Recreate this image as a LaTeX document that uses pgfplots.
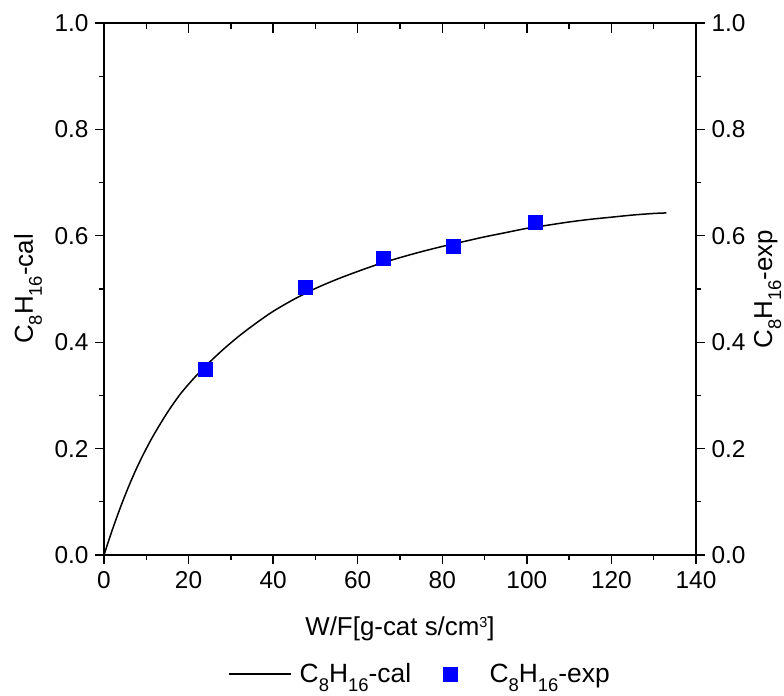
\documentclass[border=0pt]{standalone}
\usepackage{pgfplots}
\pgfplotsset{compat=1.18}
\usepackage{fontspec}
\setmainfont{Liberation Sans}
\newcommand\sub[1]{\raisebox{-9bp}{\fontsize{18.5}{18.5}\selectfont #1}}
\newcommand\sups[1]{\raisebox{8bp}{\fontsize{14.5}{14.5}\selectfont #1}}
\definecolor{sqblue}{RGB}{0,0,255}

\pgfplotstableread{
x y
0 0
2 0.048
4 0.092
6 0.132
8 0.168
10 0.200
12 0.229
15 0.268
18 0.302
21 0.330
24 0.355
28 0.385
32 0.412
36 0.436
40 0.458
45 0.481
50 0.501
55 0.518
60 0.533
65 0.547
70 0.559
75 0.570
80 0.580
85 0.589
90 0.598
95 0.606
100 0.614
105 0.620
110 0.626
115 0.631
120 0.635
125 0.639
130 0.642
133 0.643
}\calc

\pgfplotstableread{
x y
24 0.350
47.5 0.503
66 0.557
82.5 0.581
102 0.626
}\expdata

\begin{document}
\begin{tikzpicture}
\pgfplotsset{
  common/.style={
    width=592bp, height=532bp, scale only axis,
    xmin=0, xmax=140, ymin=0, ymax=1,
    xtick={0,20,...,140}, ytick={0,0.2,0.4,0.6,0.8,1.0},
    minor x tick num=1, minor y tick num=1,
    axis line style={line width=1.3bp},
    every tick/.style={black, line width=1.3bp},
    /pgf/number format/assume math mode=true,
    tick label style={font=\fontsize{24.5}{28}\selectfont},
    label style={font=\fontsize{26}{30}\selectfont},
    yticklabel style={/pgf/number format/fixed, /pgf/number format/fixed zerofill, /pgf/number format/precision=1},
  }
}
\begin{axis}[common, name=main,
  axis x line*=bottom, axis y line*=left,
  tick align=outside,
  major tick length=9bp, minor tick length=5bp,
  xticklabel style={yshift=-4bp},
  yticklabel style={xshift=-3bp},
  xlabel={W/F[g-cat s/cm\sups{3}]},
  xlabel style={at={(axis description cs:0.5,0)}, anchor=base, yshift=-80bp},
  ylabel={C\sub{8}H\sub{16}-cal},
  ylabel style={at={([xshift=-71bp]axis description cs:0,0.5)}, anchor=base, rotate=0},
  legend style={at={([yshift=-119bp]axis description cs:0.2095,0)}, anchor=west, draw=none,
    font=\fontsize{26.5}{30}\selectfont, inner sep=0bp,
    nodes={inner sep=2bp},
    /tikz/every odd column/.append style={column sep=6bp},
    /tikz/every even column/.append style={column sep=6bp}},
  legend columns=2,
  legend cell align=left,
]
\addplot[black, line width=1.5bp, smooth,
  legend image code/.code={\draw[black, line width=1.5bp] (0bp,0bp) -- (62bp,0bp);}]
  table[x=x,y=y]{\calc};
\addlegendentry{C\sub{8}H\sub{16}-cal}
\addplot[only marks, mark=square*, mark size=7bp, color=sqblue,
  legend image code/.code={\draw[only marks, mark=square*, mark size=7bp, color=sqblue] plot coordinates {(31bp,0bp)};\path (0bp,0bp) (62bp,0bp);}]
  table[x=x,y=y]{\expdata};
\addlegendentry{C\sub{8}H\sub{16}-exp}
\end{axis}
\begin{axis}[common,
  axis x line*=top, axis y line=none,
  tick align=inside,
  major tick length=10bp, minor tick length=6bp,
  xticklabels={},
]
\end{axis}
\begin{axis}[common,
  axis y line*=right, axis x line=none,
  tick align=outside,
  major tick length=9bp, minor tick length=5bp,
  yticklabel style={xshift=3bp},
  ylabel={C\sub{8}H\sub{16}-exp},
  ylabel style={at={([xshift=76bp]axis description cs:1,0.5)}, anchor=base, rotate=0},
]
\end{axis}
\pgfresetboundingbox
\path ([xshift=-104bp,yshift=-141bp]main.south west) rectangle ++(784bp,696bp);
\end{tikzpicture}
\end{document}
